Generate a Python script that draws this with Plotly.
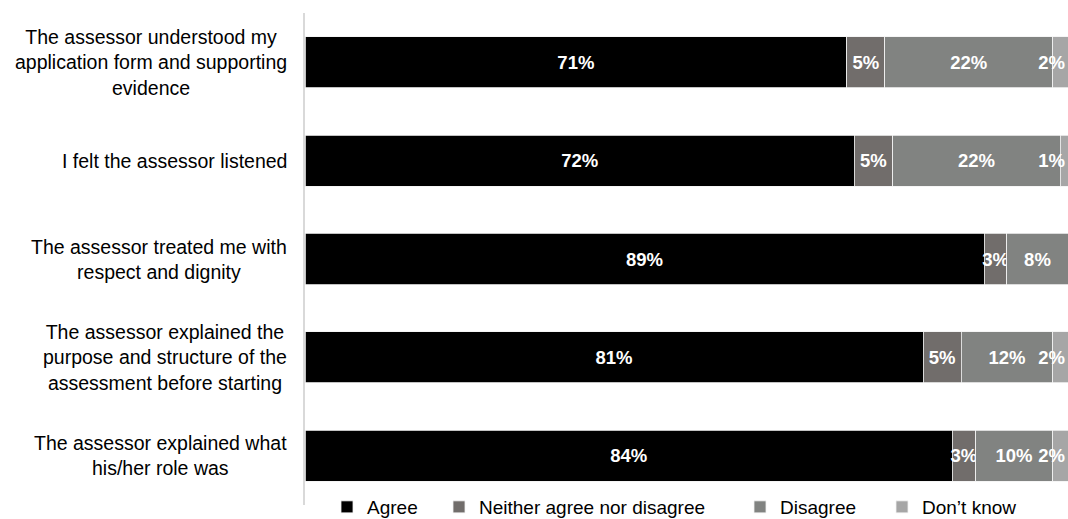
import plotly.graph_objects as go

# Survey statements (top to bottom) and response shares in percent
statements = [
    "The assessor understood my<br>application form and supporting<br>evidence",
    "I felt the assessor listened",
    "The assessor treated me with<br>respect and dignity",
    "The assessor explained the<br>purpose and structure of the<br>assessment before starting",
    "The assessor explained what<br>his/her role was",
]
keys = ["s1", "s2", "s3", "s4", "s5"]

agree = [71, 72, 89, 81, 84]
neither = [5, 5, 3, 5, 3]
disagree = [22, 22, 8, 12, 10]
dont_know = [2, 1, 0, 2, 2]

series = [
    ("Agree", agree, "#000000", "legend"),
    ("Neither agree nor disagree", neither, "#716d6b", "legend2"),
    ("Disagree", disagree, "#818381", "legend3"),
    ("Don\u2019t know", dont_know, "#a6a6a6", "legend4"),
]

FONT = "Liberation Sans, Arial, sans-serif"

fig = go.Figure()
for name, vals, color, leg in series:
    labels = [f"{v}%" if v > 0 else "" for v in vals]
    fig.add_trace(go.Bar(
        name=name,
        y=keys,
        x=vals,
        orientation="h",
        marker=dict(color=color, line=dict(color="#f2f2f2", width=0.8)),
        text=labels,
        textposition="inside",
        textangle=0,
        insidetextanchor="end" if name == "Don\u2019t know" else "middle",
        constraintext="none",
        textfont=dict(family=FONT, size=18.5, color="white", weight="bold"),
        legend=leg,
        hoverinfo="skip",
    ))

# Category labels, centred line by line to the left of the axis
for key, label in zip(keys, statements):
    fig.add_annotation(
        x=0, xref="paper", y=key, yref="y",
        xanchor="right", yanchor="middle",
        xshift=-16,
        text=label, align="center", showarrow=False,
        font=dict(family=FONT, size=19.5, color="#000000"),
    )

W = 763  # plot width in px
H = 492  # plot height in px
def lx(text_start):
    return (text_start - 40 - 305) / W

leg_common = dict(
    orientation="h", yref="paper", y=-21 / H, yanchor="bottom", xanchor="left",
    font=dict(family=FONT, size=19, color="#000000"),
    bgcolor="rgba(0,0,0,0)", itemclick=False, itemdoubleclick=False,
)

fig.update_layout(
    width=1068, height=519,
    margin=dict(l=305, r=0, t=13, b=14, autoexpand=False),
    barmode="stack",
    barnorm="percent",
    bargap=0.48,
    plot_bgcolor="white",
    paper_bgcolor="white",
    showlegend=True,
    legend=dict(x=lx(367), **leg_common),
    legend2=dict(x=lx(479), **leg_common),
    legend3=dict(x=lx(780), **leg_common),
    legend4=dict(x=lx(922), **leg_common),
    xaxis=dict(range=[0, 100], visible=False, fixedrange=True),
    yaxis=dict(
        categoryorder="array", categoryarray=keys, autorange="reversed",
        showticklabels=False, showgrid=False, zeroline=False,
        showline=True, linecolor="#d9d9d9", linewidth=1.5, ticks="",
    ),
)

fig.write_html("out.html")
